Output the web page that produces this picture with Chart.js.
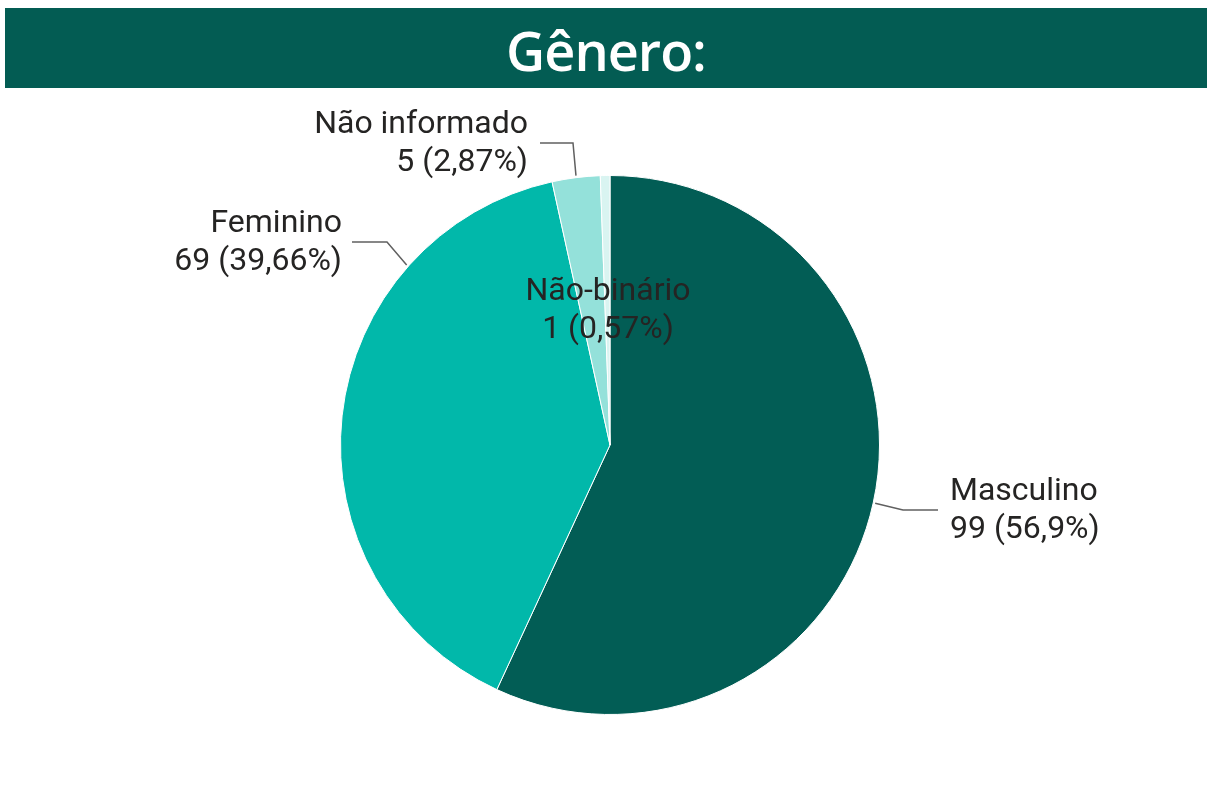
<!DOCTYPE html>
<html>
<head>
<meta charset="utf-8">
<script src="https://cdn.jsdelivr.net/npm/chart.js@4"></script>
<style>
  body { margin: 0; background: #fff; width: 1209px; height: 807px; overflow: hidden; position: relative; }
  #banner {
    position: absolute; left: 5px; top: 8px; width: 1202px; height: 80px;
    background: #035c53; color: #fff; text-align: center;
    font-family: "Open Sans", sans-serif; font-weight: 600; font-size: 54px; line-height: 84px;
    letter-spacing: -1px;
  }
  #wrap { position: absolute; left: 0; top: 0; width: 1209px; height: 807px; }
</style>
</head>
<body>
<div id="wrap"><canvas id="myChart"></canvas></div>
<div id="banner">Gênero:</div>
<script>
var categories = ['Masculino', 'Feminino', 'Não informado', 'Não-binário'];
var counts = [99, 69, 5, 1];
var percentLabels = ['56,9%', '39,66%', '2,87%', '0,57%'];
var colors = ['#025d55', '#01b8aa', '#94e1da', '#d9f4f1'];

// where each label sits, relative to the pie centre (leader: rim angle, elbow, end)
var labelLayout = [
  { rim: 12.4, elbow: [293, 65], end: [328, 65], text: [340, 55], align: 'left' },
  { rim: 221.5, elbow: [-223, -203], end: [-258, -203], text: [-268, -213], align: 'right' },
  { rim: 262.8, elbow: [-37, -302], end: [-70, -302], text: [-82, -312], align: 'right' },
  { inside: true, text: [-2, -145], align: 'center' }
];

var labelPlugin = {
  id: 'pieLabels',
  afterDatasetsDraw: function(chart) {
    var c = chart.ctx;
    var arcs = chart.getDatasetMeta(0).data;
    c.save();
    c.font = '32px Roboto, sans-serif';
    c.fillStyle = '#252423';
    c.textBaseline = 'alphabetic';
    arcs.forEach(function(arc, i) {
      var L = labelLayout[i];
      var cx = arc.x, cy = arc.y, r = arc.outerRadius;
      if (!L.inside) {
        var a = L.rim * Math.PI / 180;
        c.strokeStyle = '#606060';
        c.lineWidth = 1.5;
        c.beginPath();
        c.moveTo(cx + Math.cos(a) * (r + 2), cy + Math.sin(a) * (r + 2));
        c.lineTo(cx + L.elbow[0], cy + L.elbow[1]);
        c.lineTo(cx + L.end[0], cy + L.end[1]);
        c.stroke();
      }
      c.textAlign = L.align;
      var tx = cx + L.text[0], ty = cy + L.text[1];
      c.fillText(categories[i], tx, ty);
      c.fillText(counts[i] + ' (' + percentLabels[i] + ')', tx, ty + 38);
    });
    c.restore();
  }
};

var ctx = document.getElementById('myChart');
var myChart = new Chart(ctx, {
  type: 'pie',
  data: {
    labels: categories,
    datasets: [{
      data: counts,
      backgroundColor: colors,
      borderColor: '#ffffff',
      borderWidth: 1
    }]
  },
  options: {
    responsive: true,
    maintainAspectRatio: false,
    animation: false,
    layout: { padding: { top: 175, bottom: 92, left: 340, right: 329 } },
    plugins: {
      legend: { display: false },
      tooltip: { enabled: false }
    }
  },
  plugins: [labelPlugin]
});
</script>
</body>
</html>
